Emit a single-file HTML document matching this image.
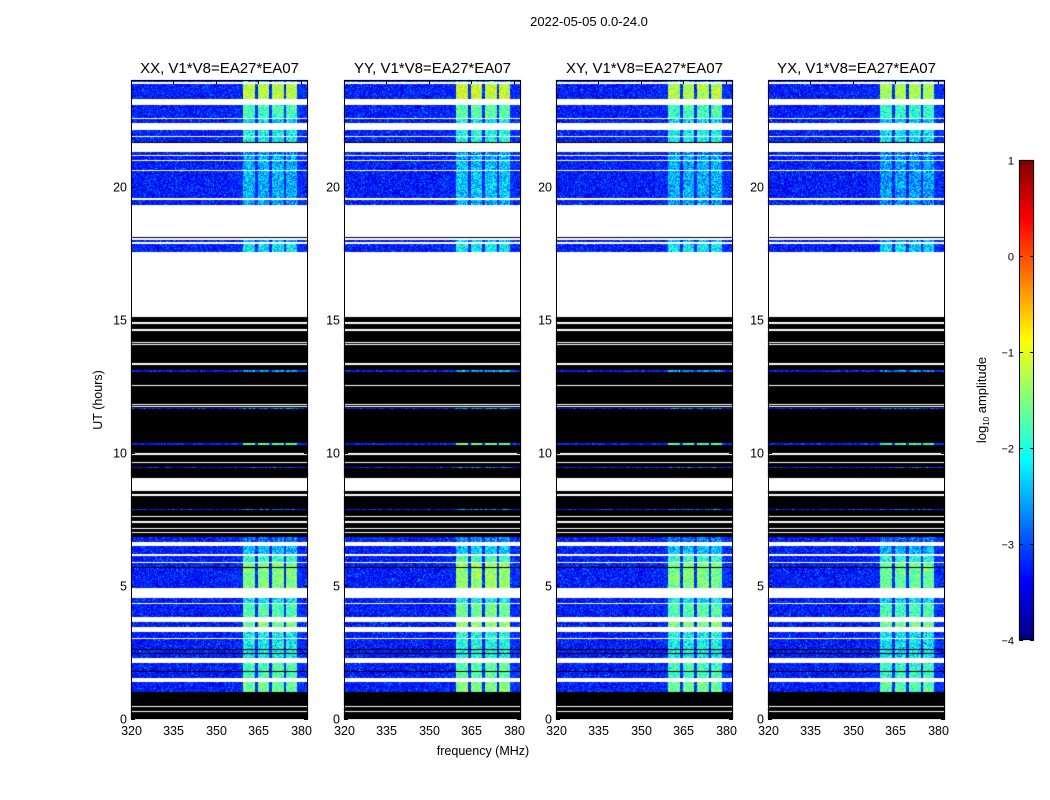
<!DOCTYPE html>
<html><head><meta charset="utf-8">
<style>
html,body{margin:0;padding:0;background:#fff;width:1050px;height:800px;overflow:hidden}
#wrap{position:relative;width:1050px;height:800px}
canvas,svg{position:absolute;left:0;top:0}
text{font-family:"Liberation Sans",sans-serif;fill:#000}
</style></head><body>
<div id="wrap">
<canvas id="cv" width="1050" height="800"></canvas>
<svg id="sv" width="1050" height="800"></svg>
</div>
<script>
// ---- data ----
const panelTitles = ["XX, V1*V8=EA27*EA07","YY, V1*V8=EA27*EA07","XY, V1*V8=EA27*EA07","YX, V1*V8=EA27*EA07"];
const panelPeakOffset = [0, 0.1, 0.0, -0.1];
const xTicks = [320,335,350,365,380];
const yTicks = [0,5,10,15,20];
const cbTicks = [1,0,-1,-2,-3,-4];
const cbTickLabels = ["1","0","\u22121","\u22122","\u22123","\u22124"];
// bright frequency blocks (MHz)
const brightStart = [359.7, 364.7, 369.7, 374.7];
const brightEnd   = [363.9, 368.9, 373.9, 378.5];
// time bands: start hour, end hour, kind (d=data,k=flagged black,w=empty), peak log amplitude
const bandStart = [0,0.45,0.26,1.02,1.39,1.54,1.79,2.1,2.29,2.44,2.6,3.0,3.04,3.27,3.46,3.64,3.83,4.34,4.36,4.54,4.92,5.66,5.86,5.9,6.12,6.18,6.5,6.65,6.97,7.12,7.38,7.57,7.84,8.39,8.56,9.42,9.63,9.92,10.29,11.63,11.71,11.78,12.49,13.03,13.31,14.04,14.11,14.59,14.85,15.1,17.54,17.84,17.9,18.0,18.05,18.1,19.31,19.5,19.57,20.58,20.62,20.94,21.0,21.13,21.18,21.3,21.63,21.67,21.86,21.9,22.12,22.39,22.52,22.57,23.06,23.29,23.85,23.94];
const bandEnd   = [15.1,0.49,0.3,1.39,1.54,2.1,1.82,2.29,3.0,2.47,2.63,3.04,3.27,3.46,3.64,3.83,4.34,4.36,4.54,4.92,5.86,5.7,5.9,6.12,6.18,6.5,6.65,6.84,7.01,7.16,7.42,7.61,7.9,8.45,9.05,9.48,9.67,9.99,10.37,11.67,11.75,11.82,12.55,13.09,13.37,14.08,14.15,14.65,14.91,17.54,17.84,17.9,18.0,18.05,18.1,19.31,19.5,19.57,20.58,20.62,20.94,21.0,21.13,21.18,21.3,21.63,21.67,21.86,21.9,22.12,22.39,22.52,22.57,23.06,23.29,23.85,23.94,24.0];
const bandKind  = ["k","w","w","d","w","d","k","w","d","k","k","w","d","w","d","w","d","w","d","w","d","k","w","d","w","d","w","d","w","w","w","w","d","w","w","d","w","w","d","d","w","w","w","d","w","w","w","w","w","w","d","w","d","w","k","w","d","w","d","w","d","w","d","w","d","w","k","d","w","d","w","d","w","d","w","d","w","d"];
const bandPeak  = [0,0,0,-1.6,0,-1.8,0,0,-2.1,0,0,0,-2.1,0,-1.5,0,-1.7,0,-2.2,0,-1.5,0,0,-1.9,0,-2.4,0,-2.8,0,0,0,0,-2.9,0,0,-2.9,0,0,-1.7,-2.7,0,0,0,-2.6,0,0,0,0,0,0,-2.2,0,-2.5,0,0,0,-2.6,0,-2.5,0,-2.5,0,-2.6,0,-2.7,0,0,-2.1,0,-2.1,0,-2.3,0,-1.8,0,-1.2,0,-2.6];

// ---- layout ----
const panelX0 = [131,344,556,768];
const PW = 177, PY0 = 80, PY1 = 719;
const fMin = 320, fMax = 382.5, hMax = 24;
function fx(p,f){return panelX0[p] + (f-fMin)/(fMax-fMin)*PW;}
function fy(h){return PY1 - h/hMax*(PY1-PY0);}
const cbX=1019, cbW=15, cbY0=160, cbY1=640;
function cbY(v){return cbY0 + (1-v)/5*(cbY1-cbY0);}

function jet(t){t=Math.max(0,Math.min(1,t));
  const c=x=>Math.round(255*Math.max(0,Math.min(1,x)));
  return [c(1.5-Math.abs(4*t-3)),c(1.5-Math.abs(4*t-2)),c(1.5-Math.abs(4*t-1))];}
function hash(a,b,c){let h=(a*374761393+b*668265263+c*2147483647)|0;h=(h^(h>>>13))*1274126177|0;return ((h^(h>>>16))>>>0)/4294967296;}

const cv=document.getElementById('cv'),ctx=cv.getContext('2d');
const img=ctx.createImageData(1050,800);
for(let i=0;i<img.data.length;i+=4){img.data[i]=img.data[i+1]=img.data[i+2]=255;img.data[i+3]=255;}
function setPx(x,y,r,g,b){const i=(y*1050+x)*4;img.data[i]=r;img.data[i+1]=g;img.data[i+2]=b;}
for(let p=0;p<4;p++){
  for(let bi=0;bi<bandStart.length;bi++){
    const yA=Math.round(fy(bandEnd[bi])), yB=Math.max(yA+1,Math.round(fy(bandStart[bi])));
    for(let y=yA;y<yB;y++){
      for(let x=panelX0[p];x<panelX0[p]+PW;x++){
        const k=bandKind[bi];
        if(k==='w'){setPx(x,y,255,255,255);continue;}
        if(k==='k'){setPx(x,y,0,0,0);continue;}
        const f=fMin+(x-panelX0[p]+0.5)/PW*(fMax-fMin);
        const n=hash(x,y,p)-0.5;
        const n2=hash(y,x,p+7)-0.5;
        let v=-3.3+n*0.8+(n2>0.42?0.5:0);
        let inB=-1;
        for(let j=0;j<brightStart.length;j++) if(f>=brightStart[j]&&f<brightEnd[j]) inB=j;
        const pk=bandPeak[bi]+panelPeakOffset[p];
        if(inB>=0) v=pk+n*1.2;
        else if(f>=378.5) v=-3.15+n*0.7;
        else if(f>355) v=-3.2+n*0.8;
        const [r,g,b]=jet((v+4)/5);
        setPx(x,y,r,g,b);
      }
    }
  }
}
// colorbar
for(let y=cbY0;y<cbY1;y++){const v=1-(y-cbY0+0.5)/(cbY1-cbY0)*5;const [r,g,b]=jet((v+4)/5);
  for(let x=cbX;x<cbX+cbW;x++)setPx(x,y,r,g,b);}
ctx.putImageData(img,0,0);

// ---- svg axes ----
const NS="http://www.w3.org/2000/svg", sv=document.getElementById('sv');
function el(t,a,parent){const e=document.createElementNS(NS,t);for(const k in a)e.setAttribute(k,a[k]);(parent||sv).appendChild(e);return e;}
let t=el('text',{x:589,y:26,'font-size':13,'text-anchor':'middle'});


t.textContent="2022-05-05 0.0-24.0";
for(let p=0;p<4;p++){
  const g=el('g',{});
  
  
  const x0=panelX0[p];
  const fr=el('rect',{x:x0+0.5,y:PY0+0.5,width:PW-1,height:PY1-PY0-1,fill:'none',stroke:'#000','stroke-width':1},g);
  
  
  const tt=el('text',{x:x0+PW/2,y:73,'font-size':15,'text-anchor':'middle'},g);
  
  
  tt.textContent=panelTitles[p];
  xTicks.forEach(v=>{const x=Math.round(fx(p,v))+0.5;
    el('line',{x1:x,x2:x,y1:PY1,y2:PY1-4,stroke:'#000'},g);
    el('line',{x1:x,x2:x,y1:PY0,y2:PY0+4,stroke:'#000'},g);
    const l=el('text',{x:x,y:PY1+16,'font-size':12.5,'text-anchor':'middle'},g);
    
    
    l.textContent=v;});
  yTicks.forEach(v=>{const y=Math.round(fy(v))+0.5;
    el('line',{x1:x0,x2:x0+4,y1:y,y2:y,stroke:'#000'},g);
    el('line',{x1:x0+PW,x2:x0+PW-4,y1:y,y2:y,stroke:'#000'},g);
    const l=el('text',{x:x0-4,y:y+4,'font-size':12.5,'text-anchor':'end'},g);
    
    
    l.textContent=v;});
}
t=el('text',{x:483,y:755,'font-size':12.5,'text-anchor':'middle'});


t.textContent="frequency (MHz)";
t=el('text',{x:0,y:0,'font-size':12.5,'text-anchor':'middle',transform:'translate(102,400) rotate(-90)'});


t.textContent="UT (hours)";
const cb=el('rect',{x:cbX+0.5,y:cbY0+0.5,width:cbW-1,height:cbY1-cbY0-1,fill:'none',stroke:'#000'});


cbTicks.forEach((v,i)=>{const y=Math.round(cbY(v))+0.5;
  el('line',{x1:cbX,x2:cbX+4,y1:y,y2:y,stroke:'#000'});
  el('line',{x1:cbX+cbW,x2:cbX+cbW-4,y1:y,y2:y,stroke:'#000'});
  const l=el('text',{x:cbX-5,y:y+4,'font-size':11,'text-anchor':'end'});
  
  
  l.textContent=cbTickLabels[i];});
t=el('text',{x:0,y:0,'font-size':13,'text-anchor':'middle',transform:'translate(986,400) rotate(-90)'});


t.innerHTML='log<tspan font-size="8" dy="3">10</tspan><tspan dy="-3"> amplitude</tspan>';
</script>
</body></html>
